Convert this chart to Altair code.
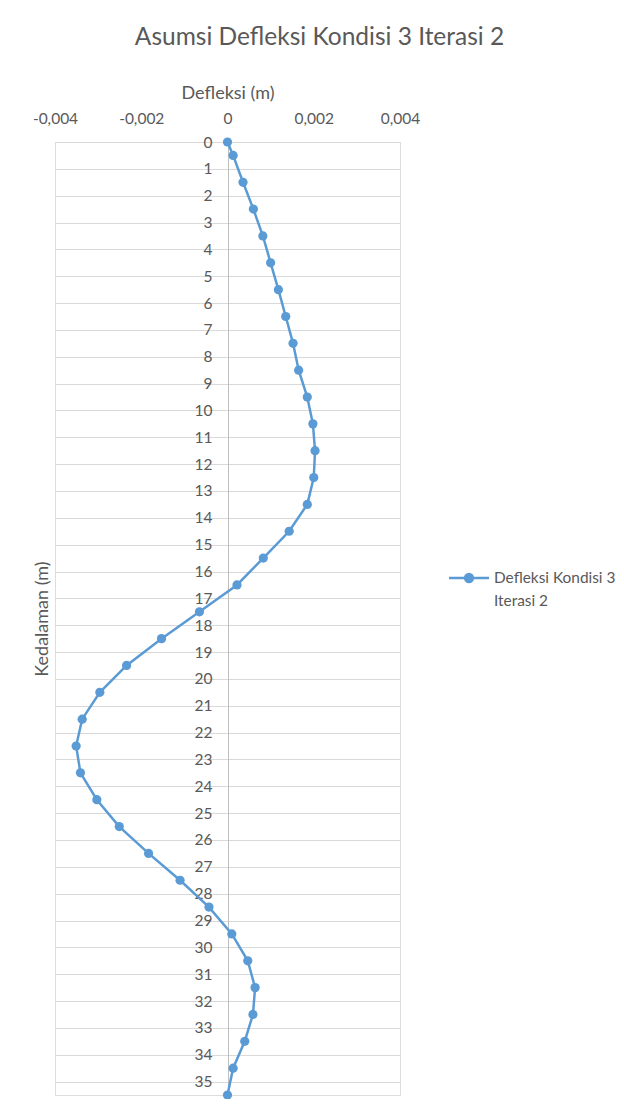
import altair as alt
import pandas as pd

# ---- data ----
depth = [0, 0.5, 1.5, 2.5, 3.5, 4.5, 5.5, 6.5, 7.5, 8.5, 9.5, 10.5, 11.5, 12.5,
         13.5, 14.5, 15.5, 16.5, 17.5, 18.5, 19.5, 20.5, 21.5, 22.5, 23.5, 24.5,
         25.5, 26.5, 27.5, 28.5, 29.5, 30.5, 31.5, 32.5, 33.5, 34.5, 35.5]
deflection = [0.0, 0.00013, 0.00036, 0.0006, 0.00082, 0.001, 0.00118, 0.00135,
              0.00152, 0.00165, 0.00185, 0.00198, 0.00203, 0.002, 0.00185,
              0.00143, 0.00083, 0.00022, -0.00065, -0.00153, -0.00234, -0.00296,
              -0.00337, -0.00351, -0.00341, -0.00303, -0.00251, -0.00183, -0.0011,
              -0.00043, 0.0001, 0.00047, 0.00064, 0.00059, 0.0004, 0.00013, 0.0]
series_name = "Defleksi Kondisi 3 Iterasi 2"
legend_lines = ["Defleksi Kondisi 3", "Iterasi 2"]
x_ticks = [-0.004, -0.002, 0, 0.002, 0.004]
y_ticks = list(range(0, 36))

df = pd.DataFrame({
    "depth": depth,
    "defl": deflection,
    "series": [series_name] * len(depth),
    "order": list(range(len(depth))),
})

FONT = "Lato"
TEXT = "#595959"
BLUE = "#5B9BD5"

label_expr = ("datum.value == 0 ? '0' : (datum.value < 0 ? '-' : '') + "
              "replace(format(abs(datum.value), '.3f'), '.', ',')")

legend_expr = "['" + legend_lines[0] + "', '" + legend_lines[1] + "']"

chart = alt.Chart(df).mark_line(
    strokeWidth=2.5,
    point=alt.OverlayMarkDef(filled=True, size=85, color=BLUE),
).encode(
    x=alt.X("defl:Q",
            scale=alt.Scale(domain=[-0.004, 0.004], nice=False, zero=False),
            axis=alt.Axis(orient="top", values=x_ticks, title="Defleksi (m)",
                          labelExpr=label_expr, labelFlush=False, grid=False,
                          domain=False, ticks=False,
                          labelFont=FONT, labelFontSize=15.5, labelColor=TEXT,
                          labelPadding=16, titleFont=FONT, titleFontSize=18,
                          titleFontWeight="normal", titleColor=TEXT, titlePadding=9)),
    y=alt.Y("depth:Q",
            scale=alt.Scale(domain=[0, 35.5], reverse=True, nice=False, zero=False),
            axis=alt.Axis(values=y_ticks, title="Kedalaman (m)", offset=-173,
                          grid=True, gridColor="#d9d9d9", gridWidth=1,
                          domain=True, domainColor="#bfbfbf", domainWidth=1,
                          ticks=False, labelFont=FONT, labelFontSize=15.5,
                          labelColor=TEXT, labelPadding=16, labelOverlap=False,
                          labelFlush=False,
                          titleFont=FONT, titleFontSize=18, titleFontWeight="normal",
                          titleColor=TEXT, titleX=-177)),
    order="order:Q",
    color=alt.Color("series:N", scale=alt.Scale(range=[BLUE]),
                    legend=alt.Legend(title=None, orient="none", legendX=404, legendY=426,
                                      padding=0,
                                      symbolType="M-2.3,0H2.3M-0.45,0A0.45,0.45,0,1,0,0.45,0A0.45,0.45,0,1,0,-0.45,0Z",
                                      symbolSize=303, symbolStrokeWidth=2.5,
                                      symbolFillColor=BLUE, symbolStrokeColor=BLUE,
                                      labelExpr=legend_expr, labelFont=FONT,
                                      labelFontSize=15.4, labelColor=TEXT,
                                      labelOffset=15, labelBaseline="middle",
                                      labelLimit=300)),
).properties(
    width=345,
    height=953,
    padding={"left": 47, "top": 134, "right": 216, "bottom": 4},
    autosize=alt.AutoSizeParams(type="none"),
    title=alt.TitleParams(text="Asumsi Defleksi Kondisi 3 Iterasi 2", font=FONT,
                          fontSize=24.5, fontWeight="normal", color=TEXT,
                          anchor="middle", dx=92, offset=34),
).configure_view(
    strokeWidth=0
).configure(
    background="white",
    style={"guide-label": {"lineHeight": 23}},
)

chart.save("out.html", embed_options={"renderer": "svg", "actions": False})
